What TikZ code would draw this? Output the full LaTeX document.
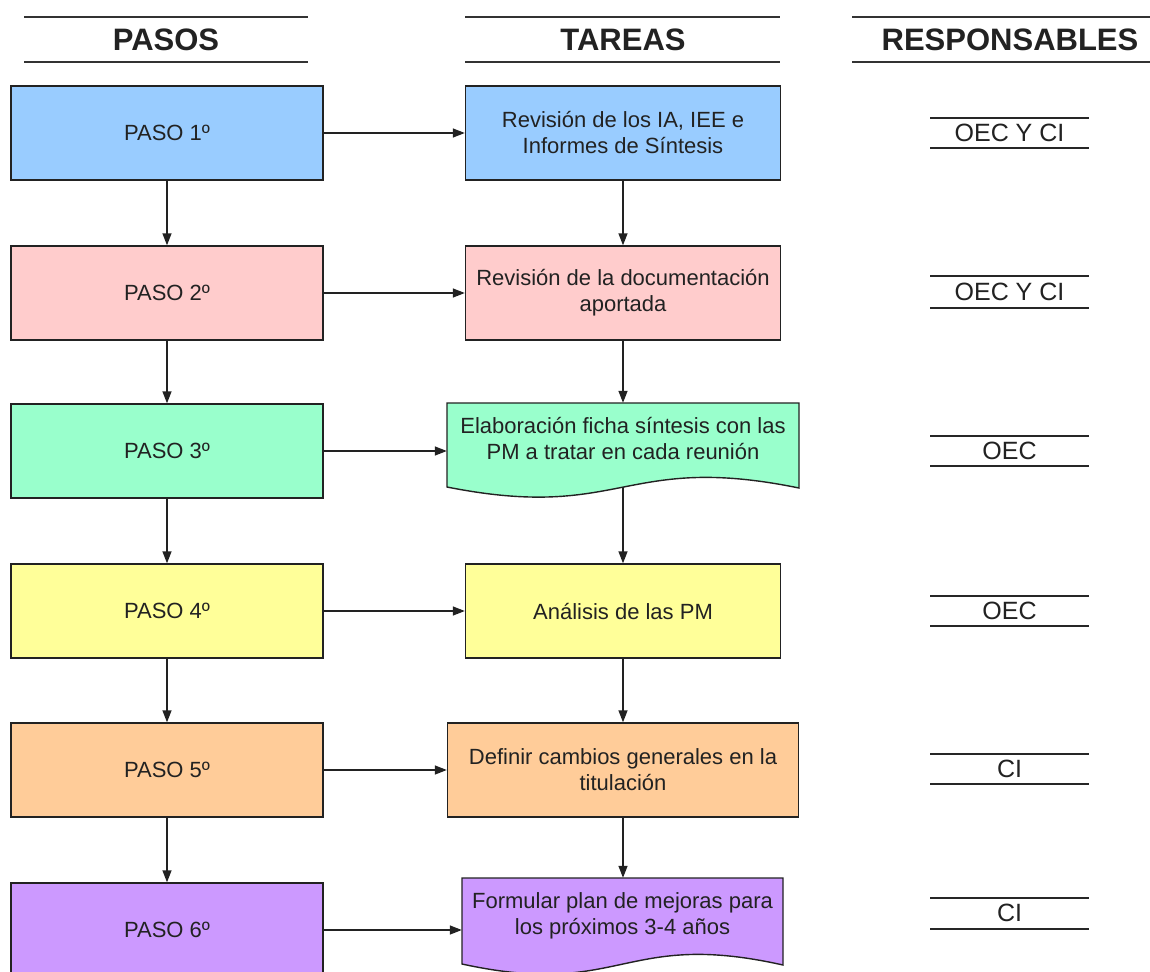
\documentclass[tikz,border=0pt]{standalone}
\usepackage{fontspec}
\setmainfont{Liberation Sans}
\usetikzlibrary{arrows.meta,calc}
\definecolor{cA}{HTML}{99CCFF}
\definecolor{cB}{HTML}{FFCCCC}
\definecolor{cC}{HTML}{99FFCC}
\definecolor{cD}{HTML}{FFFF99}
\definecolor{cE}{HTML}{FFCC99}
\definecolor{cF}{HTML}{CC99FF}
\definecolor{ink}{HTML}{222222}
\begin{document}
\begin{tikzpicture}[x=1pt,y=-1pt,
  stepbox/.style={draw=ink,line width=1.4pt,minimum width=312pt,minimum height=94pt,inner sep=0pt,font=\fontsize{22}{25}\selectfont,text=ink},
  taskbox/.style={draw=ink,line width=1.4pt,minimum height=94pt,inner sep=0pt,align=center,font=\fontsize{22}{26}\selectfont,text=ink},
  docbox/.style={inner sep=0pt,align=center,font=\fontsize{22}{26}\selectfont,text=ink},
  docshape/.style={draw=ink,line width=1.4pt},
  flow/.style={draw=ink,line width=1.4pt,-{Triangle[length=12pt,width=9pt]}},
  hdr/.style={font=\fontsize{31}{31}\selectfont\bfseries,text=ink},
  hline/.style={line width=2.6pt,draw=black!80},
  resp/.style={font=\fontsize{25}{25}\selectfont,text=ink},
  rline/.style={line width=1.7pt,draw=black!85}
]
\clip (0,0) rectangle (1150,971);
\fill[white] (0,0) rectangle (1150,971);

% headers
\node[hdr] (hP) at (166,40) {PASOS};
\node[hdr] (hT) at (623,40) {TAREAS};
\node[hdr] (hR) at (1010,40) {RESPONSABLES};
\draw[hline] (24,17) -- (308,17);
\draw[hline] (24,62) -- (308,62);
\draw[hline] (465,17) -- (780,17);
\draw[hline] (465,62) -- (780,62);
\draw[hline] (852,17) -- (1150,17);
\draw[hline] (852,62) -- (1150,62);

% steps
\node[stepbox,fill=cA] (p1) at (167,133) {PASO 1º};
\node[stepbox,fill=cB] (p2) at (167,293) {PASO 2º};
\node[stepbox,fill=cC] (p3) at (167,451) {PASO 3º};
\node[stepbox,fill=cD] (p4) at (167,611) {PASO 4º};
\node[stepbox,fill=cE] (p5) at (167,770) {PASO 5º};
\node[stepbox,fill=cF] (p6) at (167,930) {PASO 6º};

% tasks
\node[taskbox,fill=cA,minimum width=315pt] (t1) at (623,133) {Revisión de los IA, IEE e\\Informes de Síntesis};
\node[taskbox,fill=cB,minimum width=315pt] (t2) at (623,293) {Revisión de la documentación\\aportada};
\filldraw[docshape,fill=cC] (447,403) -- (799,403) -- (799,488) .. controls (623,452) and (623,522) .. (447,487) -- cycle;
\node[docbox,minimum width=352pt,minimum height=71pt] (t3) at (623,438.5) {Elaboración ficha síntesis con las\\PM a tratar en cada reunión};
\coordinate (t3b) at (623,487);
\node[taskbox,fill=cD,minimum width=315pt] (t4) at (623,611) {Análisis de las PM};
\node[taskbox,fill=cE,minimum width=351pt] (t5) at (623,770) {Definir cambios generales en la\\titulación};
\filldraw[docshape,fill=cF] (462,878) -- (783,878) -- (783,965) .. controls (622.5,929) and (622.5,999) .. (462,964) -- cycle;
\node[docbox,minimum width=321pt,minimum height=75pt] (t6) at (622.5,915.5) {Formular plan de mejoras para\\los próximos 3-4 años};

% responsables
\node[resp] (r1) at (1009.5,133) {OEC Y CI};
\node[resp] (r2) at (1009.5,292) {OEC Y CI};
\node[resp] (r3) at (1009.5,451) {OEC};
\node[resp] (r4) at (1009.5,611) {OEC};
\node[resp] (r5) at (1009.5,769) {CI};
\node[resp] (r6) at (1009.5,913) {CI};
\foreach \a/\b in {118/148,276/308,436/466,596/626,754/784,898/929}{
  \draw[rline] (930,\a) -- (1089,\a);
  \draw[rline] (930,\b) -- (1089,\b);
}

% connectors
\draw[flow] (p1.south) -- (p2.north);
\draw[flow] (p2.south) -- (p3.north);
\draw[flow] (p3.south) -- (p4.north);
\draw[flow] (p4.south) -- (p5.north);
\draw[flow] (p5.south) -- (p6.north);

\draw[flow] (t1.south) -- (t1.south |- t2.north);
\draw[flow] (t2.south) -- (t2.south |- t3.north);
\draw[flow] (t3b) -- (t3b |- t4.north);
\draw[flow] (t4.south) -- (t4.south |- t5.north);
\draw[flow] (t5.south) -- (t5.south |- t6.north);

\draw[flow] (p1.east) -- (t1.west);
\draw[flow] (p2.east) -- (t2.west);
\draw[flow] (p3.east) -- (p3.east -| t3.west);
\draw[flow] (p4.east) -- (t4.west);
\draw[flow] (p5.east) -- (t5.west);
\draw[flow] (p6.east) -- (p6.east -| t6.west);
\end{tikzpicture}
\end{document}
